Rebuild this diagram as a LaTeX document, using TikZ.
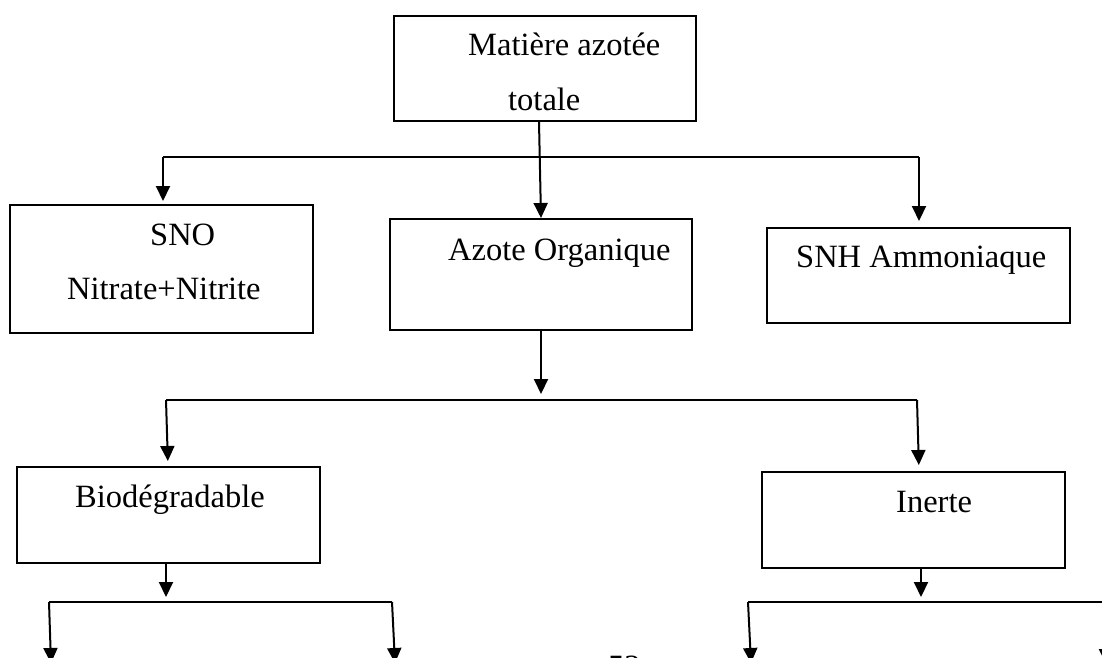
\documentclass[tikz,border=0pt]{standalone}
\usepackage{fontspec}
\setmainfont{Liberation Serif}
\usetikzlibrary{arrows.meta}
\begin{document}
\begin{tikzpicture}[x=1pt,y=-1pt,
  box/.style={draw=black,line width=2pt,inner sep=0pt,fill=none},
  lbl/.style={anchor=base west,inner sep=0pt,font=\fontsize{32.5}{38}\selectfont},
  conn/.style={line width=2pt},
  arr/.style={line width=2pt,-{Triangle[length=15pt,width=14pt]}}]
\useasboundingbox (0,0) rectangle (1102,657);
\clip (0,0) rectangle (1102,657);
\fill[white] (0,0) rectangle (1102,657);
% boxes
\node[box,minimum width=302pt,minimum height=105pt] (top) at (545,68.5) {};
\node[box,minimum width=303pt,minimum height=128pt] (sno) at (161.5,269) {};
\node[box,minimum width=302pt,minimum height=111pt] (az) at (541,274.5) {};
\node[box,minimum width=303pt,minimum height=95pt] (snh) at (918.5,275.5) {};
\node[box,minimum width=303pt,minimum height=96pt] (bio) at (168.5,515) {};
\node[box,minimum width=303pt,minimum height=96pt] (ine) at (913.5,520) {};
% texts
\node[lbl] (t1) at (468,55) {Matière azotée};
\node[lbl] (t2) at (508,110) {totale};
\node[lbl] (t3) at (150,245) {SNO};
\node[lbl] (t4) at (67,299) {Nitrate+Nitrite};
\node[lbl] (t5) at (448,260) {Azote Organique};
\node[lbl] (t6) at (796,267) {SNH Ammoniaque};
\node[lbl] (t7) at (75,507) {Biodégradable};
\node[lbl] (t8) at (896,512) {Inerte};
\node[lbl] (pg) at (608,677) {52};
% level 1
\coordinate (b1l) at (163,157);
\coordinate (b1r) at (919,157);
\draw[conn] (b1l) -- (b1r);
\draw[arr] ([xshift=-6pt]top.south) -- (az.north);
\draw[arr,shorten >=3pt] (b1l) -- (b1l |- sno.north);
\draw[arr,shorten >=6pt] (b1r) -- (b1r |- snh.north);
% level 2
\coordinate (a2) at (541,394);
\draw[arr] (az.south) -- (a2);
\coordinate (b2l) at (166,400);
\coordinate (b2r) at (917,400);
\draw[conn] (b2l) -- (b2r);
\draw[arr,shorten >=5pt] (b2l) -- ([xshift=2pt]b2l |- bio.north);
\draw[arr,shorten >=6pt] (b2r) -- ([xshift=2pt]b2r |- ine.north);
% level 3
\coordinate (c1) at (166,597);
\coordinate (c2) at (921,597);
\draw[arr] ([xshift=-2.5pt]bio.south) -- (c1);
\draw[arr] ([xshift=7.5pt]ine.south) -- (c2);
\coordinate (b3l) at (49,602);
\coordinate (b3r) at (392,602);
\coordinate (b4l) at (748,602);
\coordinate (b4r) at (1120,602);
\coordinate (d1) at (51,663);
\coordinate (d2) at (395,663);
\coordinate (d3) at (751,663);
\coordinate (d4) at (1106,664);
\draw[conn] (b3l) -- (b3r);
\draw[conn] (b4l) -- (b4r);
\draw[arr] (b3l) -- (d1);
\draw[arr] (b3r) -- (d2);
\draw[arr] (b4l) -- (d3);
\draw[arr] (1106,602) -- (d4);
\end{tikzpicture}
\end{document}
